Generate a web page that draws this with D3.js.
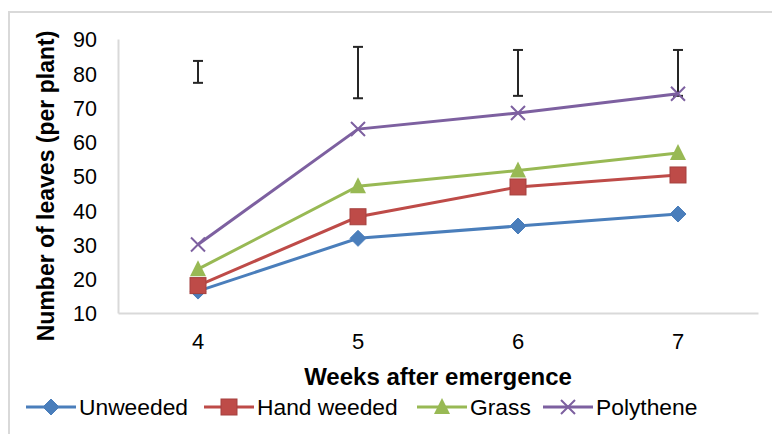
<!DOCTYPE html>
<html>
<head>
<meta charset="utf-8">
<script src="https://cdn.jsdelivr.net/npm/d3@7"></script>
<style>
  body { margin: 0; background: #fff; }
  text { font-family: "Liberation Sans", Arial, sans-serif; fill: #000; }
</style>
</head>
<body>
<svg id="chart" width="772" height="434"></svg>
<script>
const weeks = ["4", "5", "6", "7"];
const seriesNames = ["Unweeded", "Hand weeded", "Grass", "Polythene"];
const unweeded = [16.4, 31.8, 35.4, 38.9];
const handWeeded = [18.0, 38.1, 46.8, 50.3];
const grass = [22.8, 47.0, 51.6, 56.7];
const polythene = [30.0, 63.7, 68.4, 74.0];
const errCenter = [80.4, 80.2, 80.1, 80.1];
const errHalf = [3.2, 7.5, 6.7, 6.7];
const yTicks = [10, 20, 30, 40, 50, 60, 70, 80, 90];

const colors = ["#4a7ebb", "#be4b48", "#98b954", "#7d60a0"];
const shapes = ["diamond", "square", "triangle", "cross"];
const seriesData = [unweeded, handWeeded, grass, polythene];

const svg = d3.select("#chart");
const margin = { top: 39, right: 14, bottom: 121, left: 118 };
const width = 772 - margin.left - margin.right;
const height = 434 - margin.top - margin.bottom;

// outer chart frame (cut off at right and bottom)
svg.append("path")
  .attr("d", "M9,434 V12 H772")
  .attr("fill", "none")
  .attr("stroke", "#d9d9d9")
  .attr("stroke-width", 2);

const g = svg.append("g").attr("transform", `translate(${margin.left},${margin.top})`);

const x = d3.scaleBand().domain(weeks).range([0, width]);
const y = d3.scaleLinear().domain([10, 90]).range([height, 0]);

// axes
const yAxis = g.append("g").call(d3.axisLeft(y).tickValues(yTicks).tickSize(0).tickPadding(21));
yAxis.select(".domain").attr("stroke", "#d9d9d9").attr("stroke-width", 2);
yAxis.selectAll("text").style("font-size", "21.5px").attr("dy", "0.36em");

const xAxis = g.append("g").attr("transform", `translate(0,${height})`)
  .call(d3.axisBottom(x).tickSize(0).tickPadding(20));
xAxis.select(".domain").attr("stroke", "#d9d9d9").attr("stroke-width", 2);
xAxis.selectAll("text").style("font-size", "22px");

// error bars
const errG = g.append("g");
weeks.forEach((w, i) => {
  const cx = x(w) + x.bandwidth() / 2;
  const y0 = y(errCenter[i] - errHalf[i]);
  const y1 = y(errCenter[i] + errHalf[i]);
  errG.append("line").attr("x1", cx).attr("x2", cx).attr("y1", y0).attr("y2", y1);
  errG.append("line").attr("x1", cx - 5).attr("x2", cx + 5).attr("y1", y0).attr("y2", y0);
  errG.append("line").attr("x1", cx - 5).attr("x2", cx + 5).attr("y1", y1).attr("y2", y1);
});
errG.selectAll("line").attr("stroke", "#262626").attr("stroke-width", 2);

function drawMarker(sel, shape, color, cx, cy) {
  if (shape === "diamond") {
    sel.append("path").attr("d", `M${cx},${cy - 8}L${cx + 8},${cy}L${cx},${cy + 8}L${cx - 8},${cy}Z`)
      .attr("fill", color).attr("stroke", color).attr("stroke-width", 1);
  } else if (shape === "square") {
    sel.append("rect").attr("x", cx - 8).attr("y", cy - 8).attr("width", 16).attr("height", 16)
      .attr("fill", color).attr("stroke", d3.color(color).darker(0.4)).attr("stroke-width", 1);
  } else if (shape === "triangle") {
    sel.append("path").attr("d", `M${cx},${cy - 9}L${cx + 8},${cy + 7}L${cx - 8},${cy + 7}Z`)
      .attr("fill", color);
  } else {
    sel.append("path").attr("d", `M${cx - 7},${cy - 7}L${cx + 7},${cy + 7}M${cx + 7},${cy - 7}L${cx - 7},${cy + 7}`)
      .attr("stroke", color).attr("stroke-width", 2);
  }
}

const line = d3.line()
  .x((d, i) => x(weeks[i]) + x.bandwidth() / 2)
  .y(d => y(d));

seriesData.forEach((vals, s) => {
  g.append("path")
    .datum(vals)
    .attr("fill", "none")
    .attr("stroke", colors[s])
    .attr("stroke-width", 3)
    .attr("d", line);
  const mg = g.append("g");
  vals.forEach((v, i) => drawMarker(mg, shapes[s], colors[s], x(weeks[i]) + x.bandwidth() / 2, y(v)));
});

// axis titles
svg.append("text")
  .attr("transform", "translate(54,186) rotate(-90)")
  .attr("text-anchor", "middle")
  .style("font-size", "23px")
  .style("font-weight", "bold")
  .text("Number of leaves (per plant)");

svg.append("text")
  .attr("x", 438)
  .attr("y", 385)
  .attr("text-anchor", "middle")
  .style("font-size", "24px")
  .style("font-weight", "bold")
  .text("Weeks after emergence");

// legend
const legendX = [26, 204, 417, 543];
const legend = svg.append("g");
seriesNames.forEach((name, s) => {
  const lx = legendX[s];
  const ly = 407;
  legend.append("line").attr("x1", lx).attr("x2", lx + 50).attr("y1", ly).attr("y2", ly)
    .attr("stroke", colors[s]).attr("stroke-width", 3);
  drawMarker(legend, shapes[s], colors[s], lx + 25, ly);
  legend.append("text").attr("x", lx + 53).attr("y", ly + 8)
    .style("font-size", "22.8px").text(name);
});
</script>
</body>
</html>
